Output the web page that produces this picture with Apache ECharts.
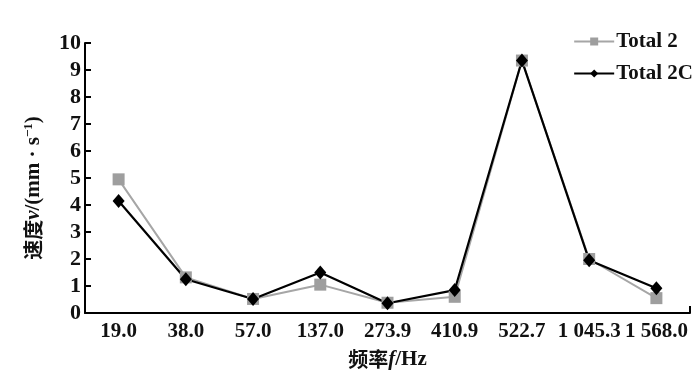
<!DOCTYPE html>
<html><head><meta charset="utf-8">
<script src="https://cdn.jsdelivr.net/npm/echarts@6/dist/echarts.min.js"></script>
<style>html,body{margin:0;padding:0;background:#fff}#c{width:700px;height:385px}</style>
</head><body><div id="c"></div>
<script>
const categories = ['19.0','38.0','57.0','137.0','273.9','410.9','522.7','1 045.3','1 568.0'];
const total2 = [4.95, 1.32, 0.52, 1.05, 0.38, 0.6, 9.35, 2.0, 0.55];
const total2C = [4.15, 1.25, 0.52, 1.5, 0.36, 0.85, 9.35, 1.95, 0.92];
const yTicks = {min: 0, max: 10, interval: 1};

const serif = '"Liberation Serif","DejaVu Serif",serif';
const cjk = '"Noto Sans CJK SC",sans-serif';
const chart = echarts.init(document.getElementById('c'));
chart.setOption({
  animation: false,
  grid: {left: 85, right: 10, top: 43, bottom: 72},
  legend: {
    orient: 'vertical', right: 2, top: 26, itemWidth: 40, itemHeight: 10, itemGap: 11,
    textStyle: {fontFamily: serif, fontSize: 21, fontWeight: 'bold', color: '#111', padding: [0, 0, 0, -3]},
    data: ['Total 2', 'Total 2C']
  },
  xAxis: {
    type: 'category', data: categories, boundaryGap: true,
    axisLine: {lineStyle: {color: '#000', width: 2}},
    axisTick: {show: true, inside: true, length: 7, lineStyle: {color: '#000', width: 2},
      interval: function (i) { return i === categories.length - 1; }},
    axisLabel: {fontFamily: serif, fontSize: 21, fontWeight: 'bold', color: '#111', margin: 8, interval: 0},
    name: '{a|频率}{i|f}{b|/Hz}', nameLocation: 'middle', nameGap: 36,
    nameTextStyle: {rich: {
      a: {fontFamily: cjk, fontSize: 20, fontWeight: 'bold', color: '#111'},
      i: {fontFamily: serif, fontSize: 21, fontStyle: 'italic', fontWeight: 'bold', color: '#111'},
      b: {fontFamily: serif, fontSize: 21, fontWeight: 'bold', color: '#111'}
    }}
  },
  yAxis: {
    type: 'value', min: yTicks.min, max: yTicks.max, interval: yTicks.interval,
    axisLine: {show: true, lineStyle: {color: '#000', width: 2}},
    axisTick: {show: true, inside: true, length: 6, lineStyle: {color: '#000', width: 2}},
    splitLine: {show: false},
    axisLabel: {fontFamily: serif, fontSize: 22, fontWeight: 'bold', color: '#111', margin: 4},
    name: '{a|速度}{i|v}{b|/(mm · s}{s|−1}{b|)}', nameLocation: 'middle', nameGap: 40, nameRotate: 90,
    nameTextStyle: {padding: [0, 20, 0, 0], rich: {
      a: {fontFamily: cjk, fontSize: 20, fontWeight: 'bold', color: '#111'},
      i: {fontFamily: serif, fontSize: 21, fontStyle: 'italic', fontWeight: 'bold', color: '#111'},
      b: {fontFamily: serif, fontSize: 21, fontWeight: 'bold', color: '#111'},
      s: {fontFamily: serif, fontSize: 13, fontWeight: 'bold', color: '#111', verticalAlign: 'top', padding: [0, 0, 10, 0]}
    }}
  },
  series: [
    {name: 'Total 2', type: 'line', data: total2, symbol: 'rect', symbolSize: 12,
      lineStyle: {color: '#a6a6a6', width: 2}, itemStyle: {color: '#9e9e9e'}},
    {name: 'Total 2C', type: 'line', data: total2C, symbol: 'diamond', symbolSize: [12, 14],
      lineStyle: {color: '#000', width: 2.2}, itemStyle: {color: '#000'}}
  ]
});
</script></body></html>
